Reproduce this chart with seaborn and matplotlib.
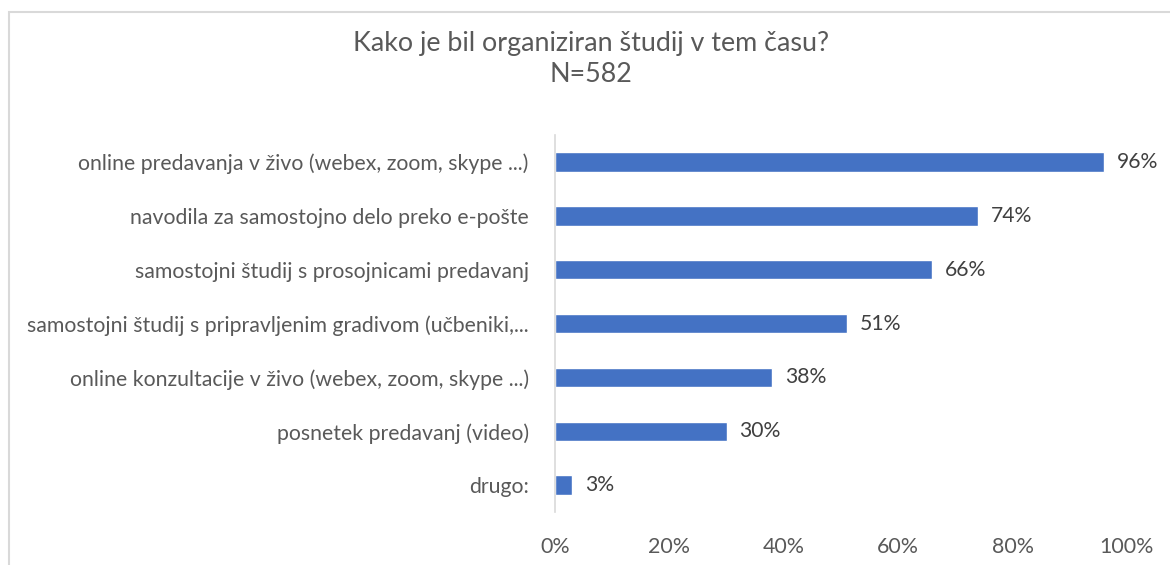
import matplotlib
matplotlib.use("Agg")
import matplotlib.pyplot as plt
import seaborn as sns
import pandas as pd
from matplotlib.patches import Rectangle

categories = [
    "online predavanja v živo (webex, zoom, skype ...)",
    "navodila za samostojno delo preko e-pošte",
    "samostojni študij s prosojnicami predavanj",
    "samostojni študij s pripravljenim gradivom (učbeniki,...",
    "online konzultacije v živo (webex, zoom, skype ...)",
    "posnetek predavanj (video)",
    "drugo:",
]
values = [96, 74, 66, 51, 38, 30, 3]
tick_values = [0, 20, 40, 60, 80, 100]
tick_labels = ["0%", "20%", "40%", "60%", "80%", "100%"]
title = "Kako je bil organiziran študij v tem času?\nN=582"

sns.set_theme(style="white")
FONT = ["Lato", "DejaVu Sans"]
plt.rcParams["font.family"] = FONT

df = pd.DataFrame({"cat": categories, "val": values})

fig = plt.figure(figsize=(11.70, 5.65), dpi=100)
ax = fig.add_axes([0.4744, 0.0938, 0.9632 - 0.4744, 0.761 - 0.0938])

sns.barplot(data=df, y="cat", x="val", orient="h", color="#4472C4",
            saturation=1, width=0.36, ax=ax)

ax.set_xlim(0, 100)
ax.set_xticks(tick_values)
ax.set_xticklabels(tick_labels)
ax.set_xlabel("")
ax.set_ylabel("")
for s in ["top", "right", "bottom"]:
    ax.spines[s].set_visible(False)
ax.spines["left"].set_color("#D9D9D9")
ax.spines["left"].set_linewidth(1.2)
ax.tick_params(axis="x", length=0, pad=18, labelsize=15.4, labelcolor="#595959")
ax.tick_params(axis="y", length=0, pad=19, labelsize=15.3, labelcolor="#595959")
ax.grid(False)

for i, v in enumerate(values):
    ax.text(v + 2.2, i, f"{v}%", va="center", ha="left", fontsize=15.2,
            color="#404040")

fig.text(0.505, 0.895, title, ha="center", va="center", fontsize=19.4,
         color="#595959", linespacing=1.3)

fig.patches.append(Rectangle((9 / 1170, -0.05), 1.2, 1 - 12 / 565 + 0.05,
                             transform=fig.transFigure, fill=False,
                             edgecolor="#D9D9D9", linewidth=1.5))

fig.savefig("out.png", dpi=100)
